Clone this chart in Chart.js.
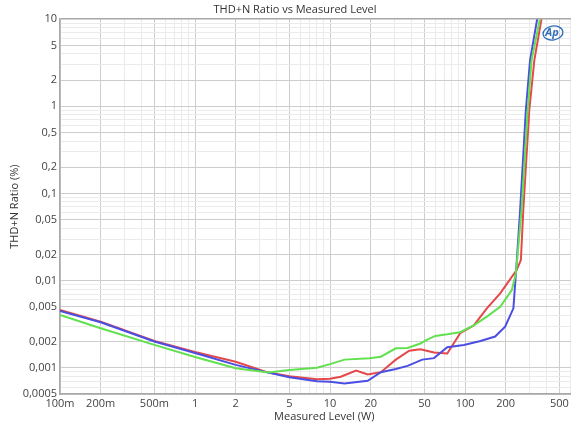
<!DOCTYPE html>
<html>
<head>
<meta charset="utf-8">
<script src="https://cdn.jsdelivr.net/npm/chart.js@4.4.1/dist/chart.umd.min.js"></script>
<style>
  html, body { margin: 0; padding: 0; background: #fff; overflow: hidden; }
  #wrap { width: 571px; height: 425px; overflow: hidden; }
</style>
</head>
<body>
<div id="wrap"><canvas id="thd" width="590" height="425"></canvas></div>
<script>
// tick labels (values + texts)
const xTicks = [0.1, 0.2, 0.5, 1, 2, 5, 10, 20, 50, 100, 200, 500];
const xTickLabels = ['100m', '200m', '500m', '1', '2', '5', '10', '20', '50', '100', '200', '500'];
const yTicks = [0.0005, 0.001, 0.002, 0.005, 0.01, 0.02, 0.05, 0.1, 0.2, 0.5, 1, 2, 5, 10];
const yTickLabels = ['0,0005', '0,001', '0,002', '0,005', '0,01', '0,02', '0,05', '0,1', '0,2', '0,5', '1', '2', '5', '10'];

// red channel
const redX = [0.1, 0.2, 0.5, 1, 2, 3.5, 5, 8, 10, 12, 15.6, 19, 23.8, 30.7, 38.6, 46.7, 58.9, 73.8, 92, 116, 145, 182, 241, 259, 270, 299, 326, 368];
const redY = [0.0046, 0.00338, 0.00203, 0.00152, 0.00117, 0.00088, 0.0008, 0.00074, 0.00075, 0.00079, 0.00093, 0.00084, 0.00089, 0.00124, 0.00157, 0.00163, 0.0015, 0.00146, 0.00249, 0.00306, 0.00481, 0.00715, 0.0132, 0.0172, 0.065, 0.905, 3.39, 10];

// blue channel
const blueX = [0.1, 0.2, 0.5, 1, 2, 3.5, 5, 8, 10, 12.8, 19, 23.8, 30.7, 37.5, 48.2, 58.9, 73.8, 98, 130, 167, 198, 228, 241, 255, 282, 303, 342];
const blueY = [0.0045, 0.00333, 0.002, 0.00148, 0.00108, 0.00088, 0.00078, 0.0007, 0.00069, 0.00066, 0.00071, 0.00089, 0.00097, 0.00105, 0.00124, 0.00129, 0.00172, 0.00183, 0.00203, 0.00228, 0.00296, 0.00481, 0.0159, 0.0596, 0.905, 3.39, 10];

// green channel
const greenX = [0.1, 0.2, 0.5, 1, 2, 3.5, 5, 8, 10, 12.8, 19.6, 23.8, 30.7, 37.5, 46.7, 52, 60.2, 73.8, 92, 116, 145, 182, 222, 238, 248, 262, 291, 311, 358];
const greenY = [0.00404, 0.00284, 0.00183, 0.00133, 0.00099, 0.00088, 0.00094, 0.001, 0.0011, 0.00124, 0.00129, 0.00134, 0.00167, 0.00169, 0.0019, 0.00209, 0.00232, 0.00242, 0.00256, 0.00306, 0.00386, 0.005, 0.0078, 0.0121, 0.0245, 0.0645, 0.905, 3.39, 10];

function pts(xs, ys) {
  return xs.map((x, i) => ({ x: x, y: ys[i] }));
}

// all 1..9 x 10^k values between min and max (minor grid)
function logGrid(min, max) {
  const out = [];
  for (let k = -5; k <= 3; k++) {
    for (let m = 1; m <= 9; m++) {
      const v = Number((m * Math.pow(10, k)).toPrecision(3));
      if (v >= min * 0.999 && v <= max * 1.001) out.push({ value: v });
    }
  }
  return out;
}

function findLabel(vals, labels, v) {
  for (let i = 0; i < vals.length; i++) {
    if (Math.abs(vals[i] - v) / vals[i] < 1e-6) return labels[i];
  }
  return '';
}

function isMajor(vals, v) {
  return vals.some(t => Math.abs(t - v) / t < 1e-6);
}

const font = "'Open Sans', 'DejaVu Sans', sans-serif";

// little AP badge in the corner
const apLogo = {
  id: 'apLogo',
  afterDraw(chart) {
    const c = chart.ctx;
    c.save();
    c.strokeStyle = '#2f6fb8';
    c.lineWidth = 1.3;
    c.beginPath();
    c.ellipse(553, 33, 10, 7, -0.15, 0, Math.PI * 2);
    c.stroke();
    c.fillStyle = '#2f6fb8';
    c.font = "italic bold 11px " + font;
    c.textAlign = 'center';
    c.textBaseline = 'middle';
    c.fillText('Ap', 552, 33);
    c.restore();
  }
};

const ds = (label, xs, ys, color) => ({
  label: label,
  data: pts(xs, ys),
  borderColor: color,
  backgroundColor: color,
  borderWidth: 2,
  pointRadius: 0,
  tension: 0,
  fill: false
});

new Chart(document.getElementById('thd'), {
  type: 'line',
  data: {
    datasets: [
      ds('Green', greenX, greenY, '#62e04f'),
      ds('Blue', blueX, blueY, '#4b4ee3'),
      ds('Red', redX, redY, '#e5484b')
    ]
  },
  options: {
    responsive: false,
    animation: false,
    devicePixelRatio: 1,
    layout: { padding: { left: 0, right: 0, top: 0, bottom: 0 } },
    plugins: {
      legend: { display: false },
      tooltip: { enabled: false },
      title: {
        display: true,
        text: 'THD+N Ratio vs Measured Level',
        color: '#333',
        font: { family: font, size: 11, weight: 'normal' },
        padding: { top: 3, bottom: 3 }
      }
    },
    scales: {
      x: {
        type: 'logarithmic',
        min: 0.1,
        max: 820,
        afterBuildTicks: s => { s.ticks = logGrid(0.1, 820); },
        afterFit: s => { s.height = 31; },
        ticks: {
          autoSkip: false,
          maxRotation: 0,
          padding: 3,
          color: '#444',
          font: { family: font, size: 11 },
          callback: v => findLabel(xTicks, xTickLabels, v)
        },
        grid: {
          drawTicks: false,
          color: c => isMajor(xTicks, c.tick.value) ? '#cdcdcd' : '#ebebeb'
        },
        border: { color: '#a8a8a8', width: 1.5 },
        title: {
          display: true,
          text: 'Measured Level (W)',
          color: '#333',
          font: { family: font, size: 11 },
          padding: { top: 0, bottom: 2 }
        }
      },
      y: {
        type: 'logarithmic',
        min: 0.0005,
        max: 10,
        afterBuildTicks: s => { s.ticks = logGrid(0.0005, 10); },
        afterFit: s => { s.width = 60; },
        ticks: {
          autoSkip: false,
          padding: 3,
          color: '#444',
          font: { family: font, size: 11 },
          callback: v => findLabel(yTicks, yTickLabels, v)
        },
        grid: {
          drawTicks: false,
          color: c => {
            if (c.tick.value >= 9.99) return '#a8a8a8';
            return isMajor(yTicks, c.tick.value) ? '#cdcdcd' : '#ebebeb';
          },
          lineWidth: c => c.tick.value >= 9.99 ? 1.5 : 1
        },
        border: { color: '#a8a8a8', width: 1.5 },
        title: {
          display: true,
          text: 'THD+N Ratio (%)',
          color: '#333',
          font: { family: font, size: 11 },
          padding: { top: 8, bottom: 0 }
        }
      }
    }
  },
  plugins: [apLogo]
});
</script>
</body>
</html>
